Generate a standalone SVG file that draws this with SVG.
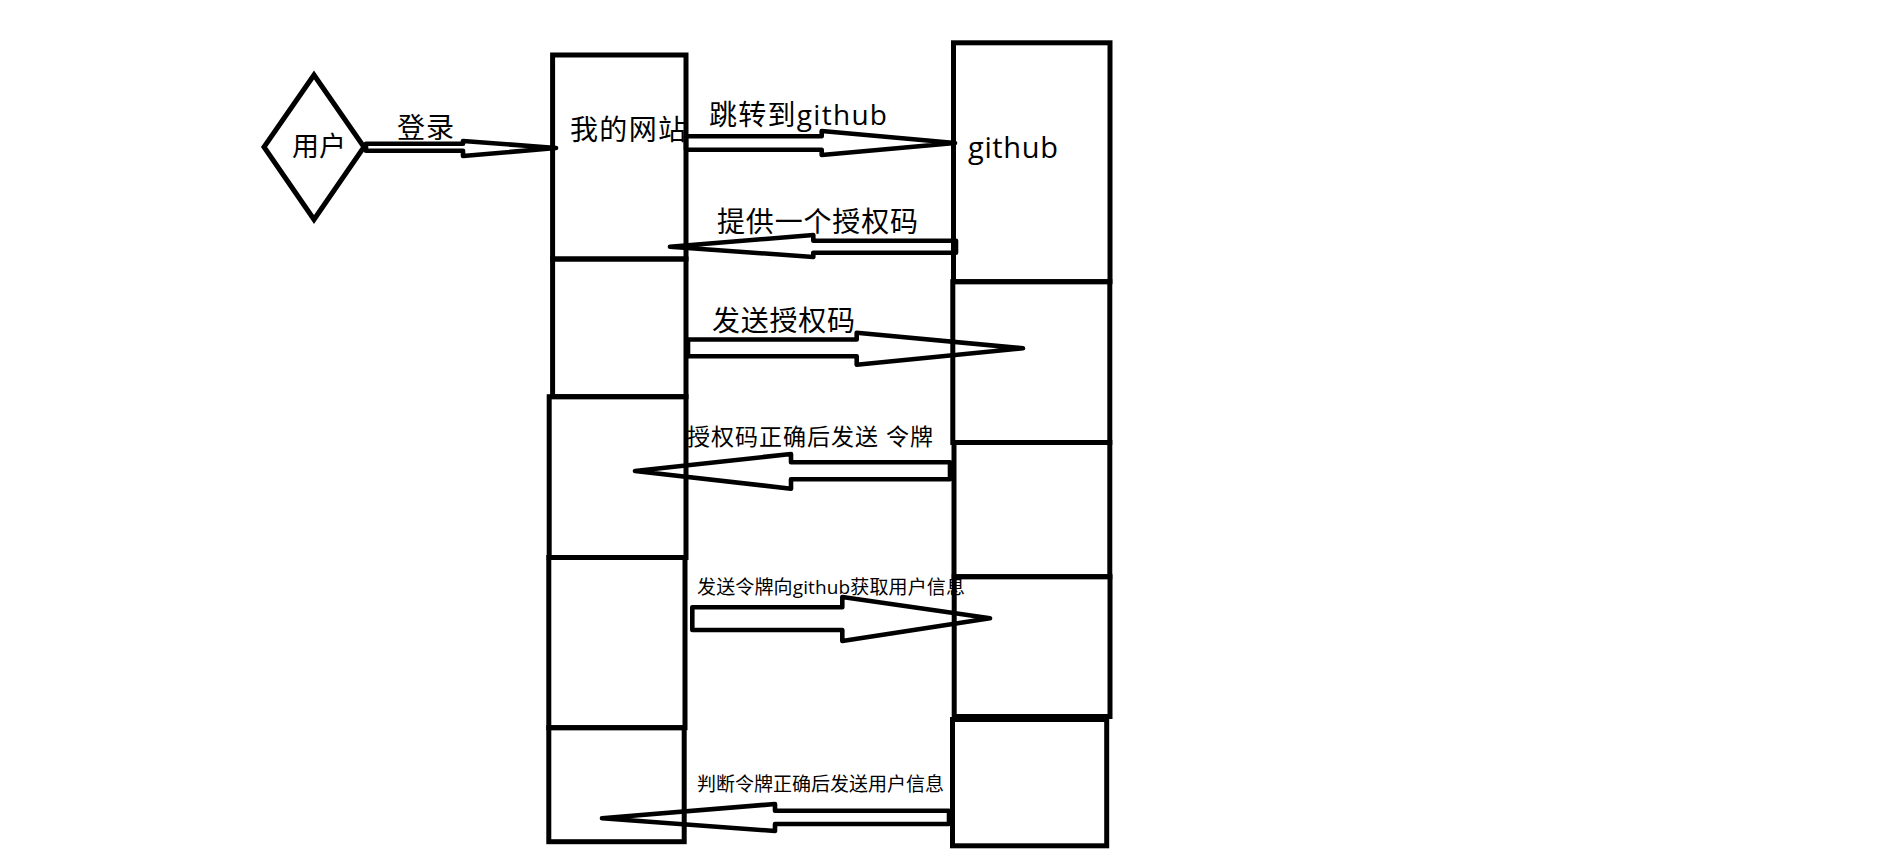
<svg xmlns="http://www.w3.org/2000/svg" width="1900" height="855" viewBox="0 0 1900 855">
<style>
.box{fill:none;stroke:#000;stroke-width:5;stroke-linejoin:miter}
.arr{fill:none;stroke:#000;stroke-width:4.6;stroke-linejoin:round}
.t{font-family:"Open Sans","Noto Sans CJK SC",sans-serif;fill:#000}
</style>
<rect x="0" y="0" width="1900" height="855" fill="#fff"/>
<g id="connectors">
  <text class="t" x="397" y="138" font-size="28" textLength="57">登录</text>
  <polygon class="arr" points="366,143.8 463,143.8 463,141 556,148 463,156 463,150.8 366,150.8"/>
  <text class="t" x="709" y="125" font-size="28" textLength="178">跳转到github</text>
  <polygon class="arr" points="686,136.3 821.7,136.3 821.7,131 955,143 821.7,155 821.7,149.7 686,149.7"/>
  <text class="t" x="717" y="232" font-size="28" textLength="201">提供一个授权码</text>
  <polygon class="arr" points="956,240.7 813.3,240.7 813.3,235 670,246.7 813.3,257 813.3,252.7 956,252.7"/>
  <text class="t" x="712" y="331" font-size="28" textLength="143">发送授权码</text>
  <polygon class="arr" points="688,339.5 856.7,339.5 856.7,332.7 1023,348.3 856.7,364.7 856.7,356.2 688,356.2"/>
  <text class="t" x="687" y="445" font-size="23" textLength="246">授权码正确后发送 令牌</text>
  <polygon class="arr" points="950,462.2 791,462.2 791,454 635,471 791,488.7 791,479.3 950,479.3"/>
  <text class="t" x="697" y="594" font-size="19" textLength="268">发送令牌向github获取用户信息</text>
  <polygon class="arr" points="692.3,607.2 842.3,607.2 842.3,597 990,618.3 842.3,641 842.3,630 692.3,630"/>
  <text class="t" x="697" y="791" font-size="19" textLength="247">判断令牌正确后发送用户信息</text>
  <polygon class="arr" points="949,810.7 775,810.7 775,804 602,818.3 775,831 775,824 949,824"/>
</g>
<g id="user">
  <polygon class="box" points="314,75 364,147 314,219.5 264,147"/>
  <text class="t" x="319" y="156" font-size="27" text-anchor="middle">用户</text>
</g>
<g id="site-1">
  <rect class="box" x="552.6" y="55" width="133.4" height="204"/>
  <text class="t" x="570" y="139.5" font-size="28" textLength="116">我的网站</text>
</g>
<g id="site-2"><rect class="box" x="552.6" y="259" width="133.4" height="137.7"/></g>
<g id="site-3"><rect class="box" x="549.2" y="396.7" width="136.8" height="160.8"/></g>
<g id="site-4"><rect class="box" x="548.8" y="557.5" width="136.2" height="170.2"/></g>
<g id="site-5"><rect class="box" x="548.8" y="727.7" width="135.4" height="114"/></g>
<g id="github-1">
  <rect class="box" x="953.5" y="42.8" width="156.5" height="238.9"/>
  <text class="t" x="968" y="157.5" font-size="29" textLength="90">github</text>
</g>
<g id="github-2"><rect class="box" x="952.8" y="281.7" width="157" height="160.8"/></g>
<g id="github-3"><rect class="box" x="954" y="442.5" width="155.8" height="134.2"/></g>
<g id="github-4"><rect class="box" x="954.2" y="576.7" width="155.8" height="139.8"/></g>
<g id="github-5"><rect class="box" x="952.5" y="719.5" width="154.2" height="126.3"/></g>
</svg>
